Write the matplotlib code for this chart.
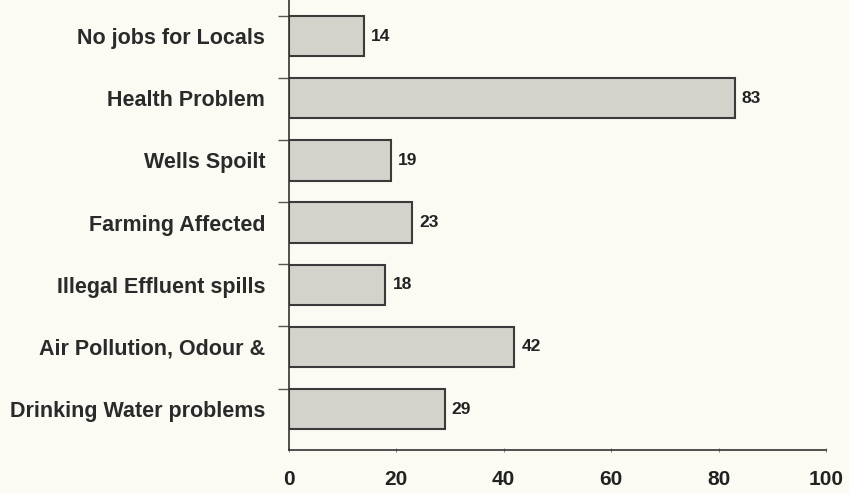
import matplotlib.pyplot as plt
import numpy as np

categories = ["Drinking Water problems", "Air Pollution, Odour &", "Illegal Effluent spills",
              "Farming Affected", "Wells Spoilt", "Health Problem", "No jobs for Locals"]
values = [29, 42, 18, 23, 19, 83, 14]
xticks = [0, 20, 40, 60, 80, 100]

plt.rcParams['font.family'] = ['Liberation Sans', 'DejaVu Sans']

bg = '#fbfbf4'
fig = plt.figure(figsize=(8.49, 4.93), dpi=100, facecolor=bg)
ax = fig.add_axes([0.340, 0.087, 0.633, 0.913])
ax.set_facecolor(bg)

pos = np.arange(len(categories))
ax.barh(pos, values, height=0.65, color='#d3d3cb', edgecolor='#3a3a3a', linewidth=1.5)

for p, v in zip(pos, values):
    ax.text(v + 1.3, p, str(v), va='center', ha='left', fontsize=12.5, fontweight='bold', color='#222222')

ax.set_xlim(0, 100)
ax.set_ylim(-0.66, 6.58)
ax.set_xticks(xticks)
ax.set_xticklabels([str(t) for t in xticks], fontsize=15, fontweight='bold', color='#222222')
ax.set_yticks(pos)
ax.set_yticklabels(categories, fontsize=15.5, fontweight='bold', color='#2a2a2a')

# boundary tick marks on the category axis
ax.set_yticks(pos + 0.33, minor=True)
ax.tick_params(axis='y', which='major', length=0, pad=17)
ax.tick_params(axis='y', which='minor', length=8, width=1, color='#555555', direction='out')
ax.tick_params(axis='x', which='major', length=3, width=0.8, color='#888888', direction='inout', pad=13)

for s in ['top', 'right']:
    ax.spines[s].set_visible(False)
for s in ['left', 'bottom']:
    ax.spines[s].set_color('#333333')
    ax.spines[s].set_linewidth(1.2)

fig.savefig('out.png', dpi=100, facecolor=bg)
